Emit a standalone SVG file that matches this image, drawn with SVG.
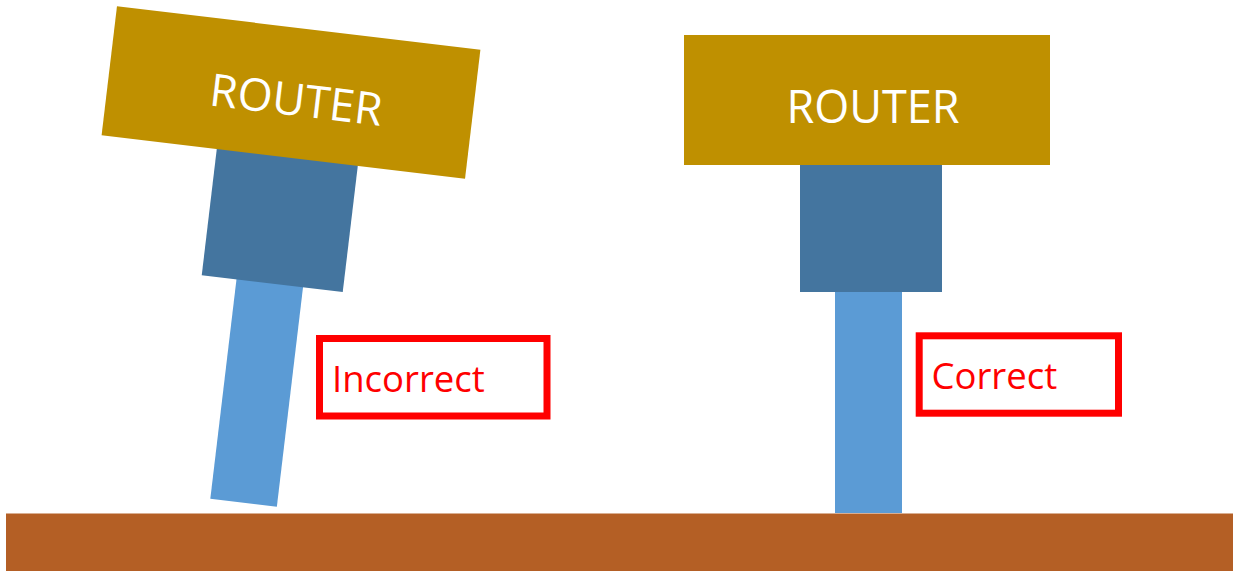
<svg xmlns="http://www.w3.org/2000/svg" width="1233" height="571" viewBox="0 0 1233 571">
  <style>
    .router { fill: #BF9000; }
    .plug { fill: #44759F; }
    .cable { fill: #5B9BD5; }
    .ground { fill: #B45F25; }
    .label-box { fill: none; stroke: #FF0000; stroke-width: 7; }
    .router-text { font-family: "Open Sans", "Liberation Sans", sans-serif; font-size: 45px; fill: #FFFFFF; text-anchor: middle; }
    .label-text { font-family: "Open Sans", "Liberation Sans", sans-serif; font-size: 36.5px; fill: #FF0000; }
  </style>
  <defs>
    <g id="assembly">
      <rect class="cable" x="835" y="291" width="67" height="222"/>
      <rect class="plug" x="800" y="164" width="142" height="128"/>
      <rect class="router" x="684" y="35" width="366" height="130"/>
      <text class="router-text" x="873" y="122.5">ROUTER</text>
    </g>
  </defs>

  <g id="ground">
    <rect class="ground" x="6" y="513.5" width="1227" height="57.5"/>
  </g>

  <g id="incorrect-router" transform="translate(291,92.5) rotate(6.8) translate(-867,-100)">
    <use href="#assembly"/>
  </g>

  <g id="correct-router">
    <use href="#assembly"/>
  </g>

  <g id="incorrect-label">
    <rect class="label-box" x="319.5" y="338.5" width="227.5" height="77.5"/>
    <text class="label-text" x="332" y="391.5">Incorrect</text>
  </g>

  <g id="correct-label">
    <rect class="label-box" x="919.2" y="335.8" width="199.3" height="77.4"/>
    <text class="label-text" x="931.5" y="389">Correct</text>
  </g>

  <g id="connectors"/>
</svg>
